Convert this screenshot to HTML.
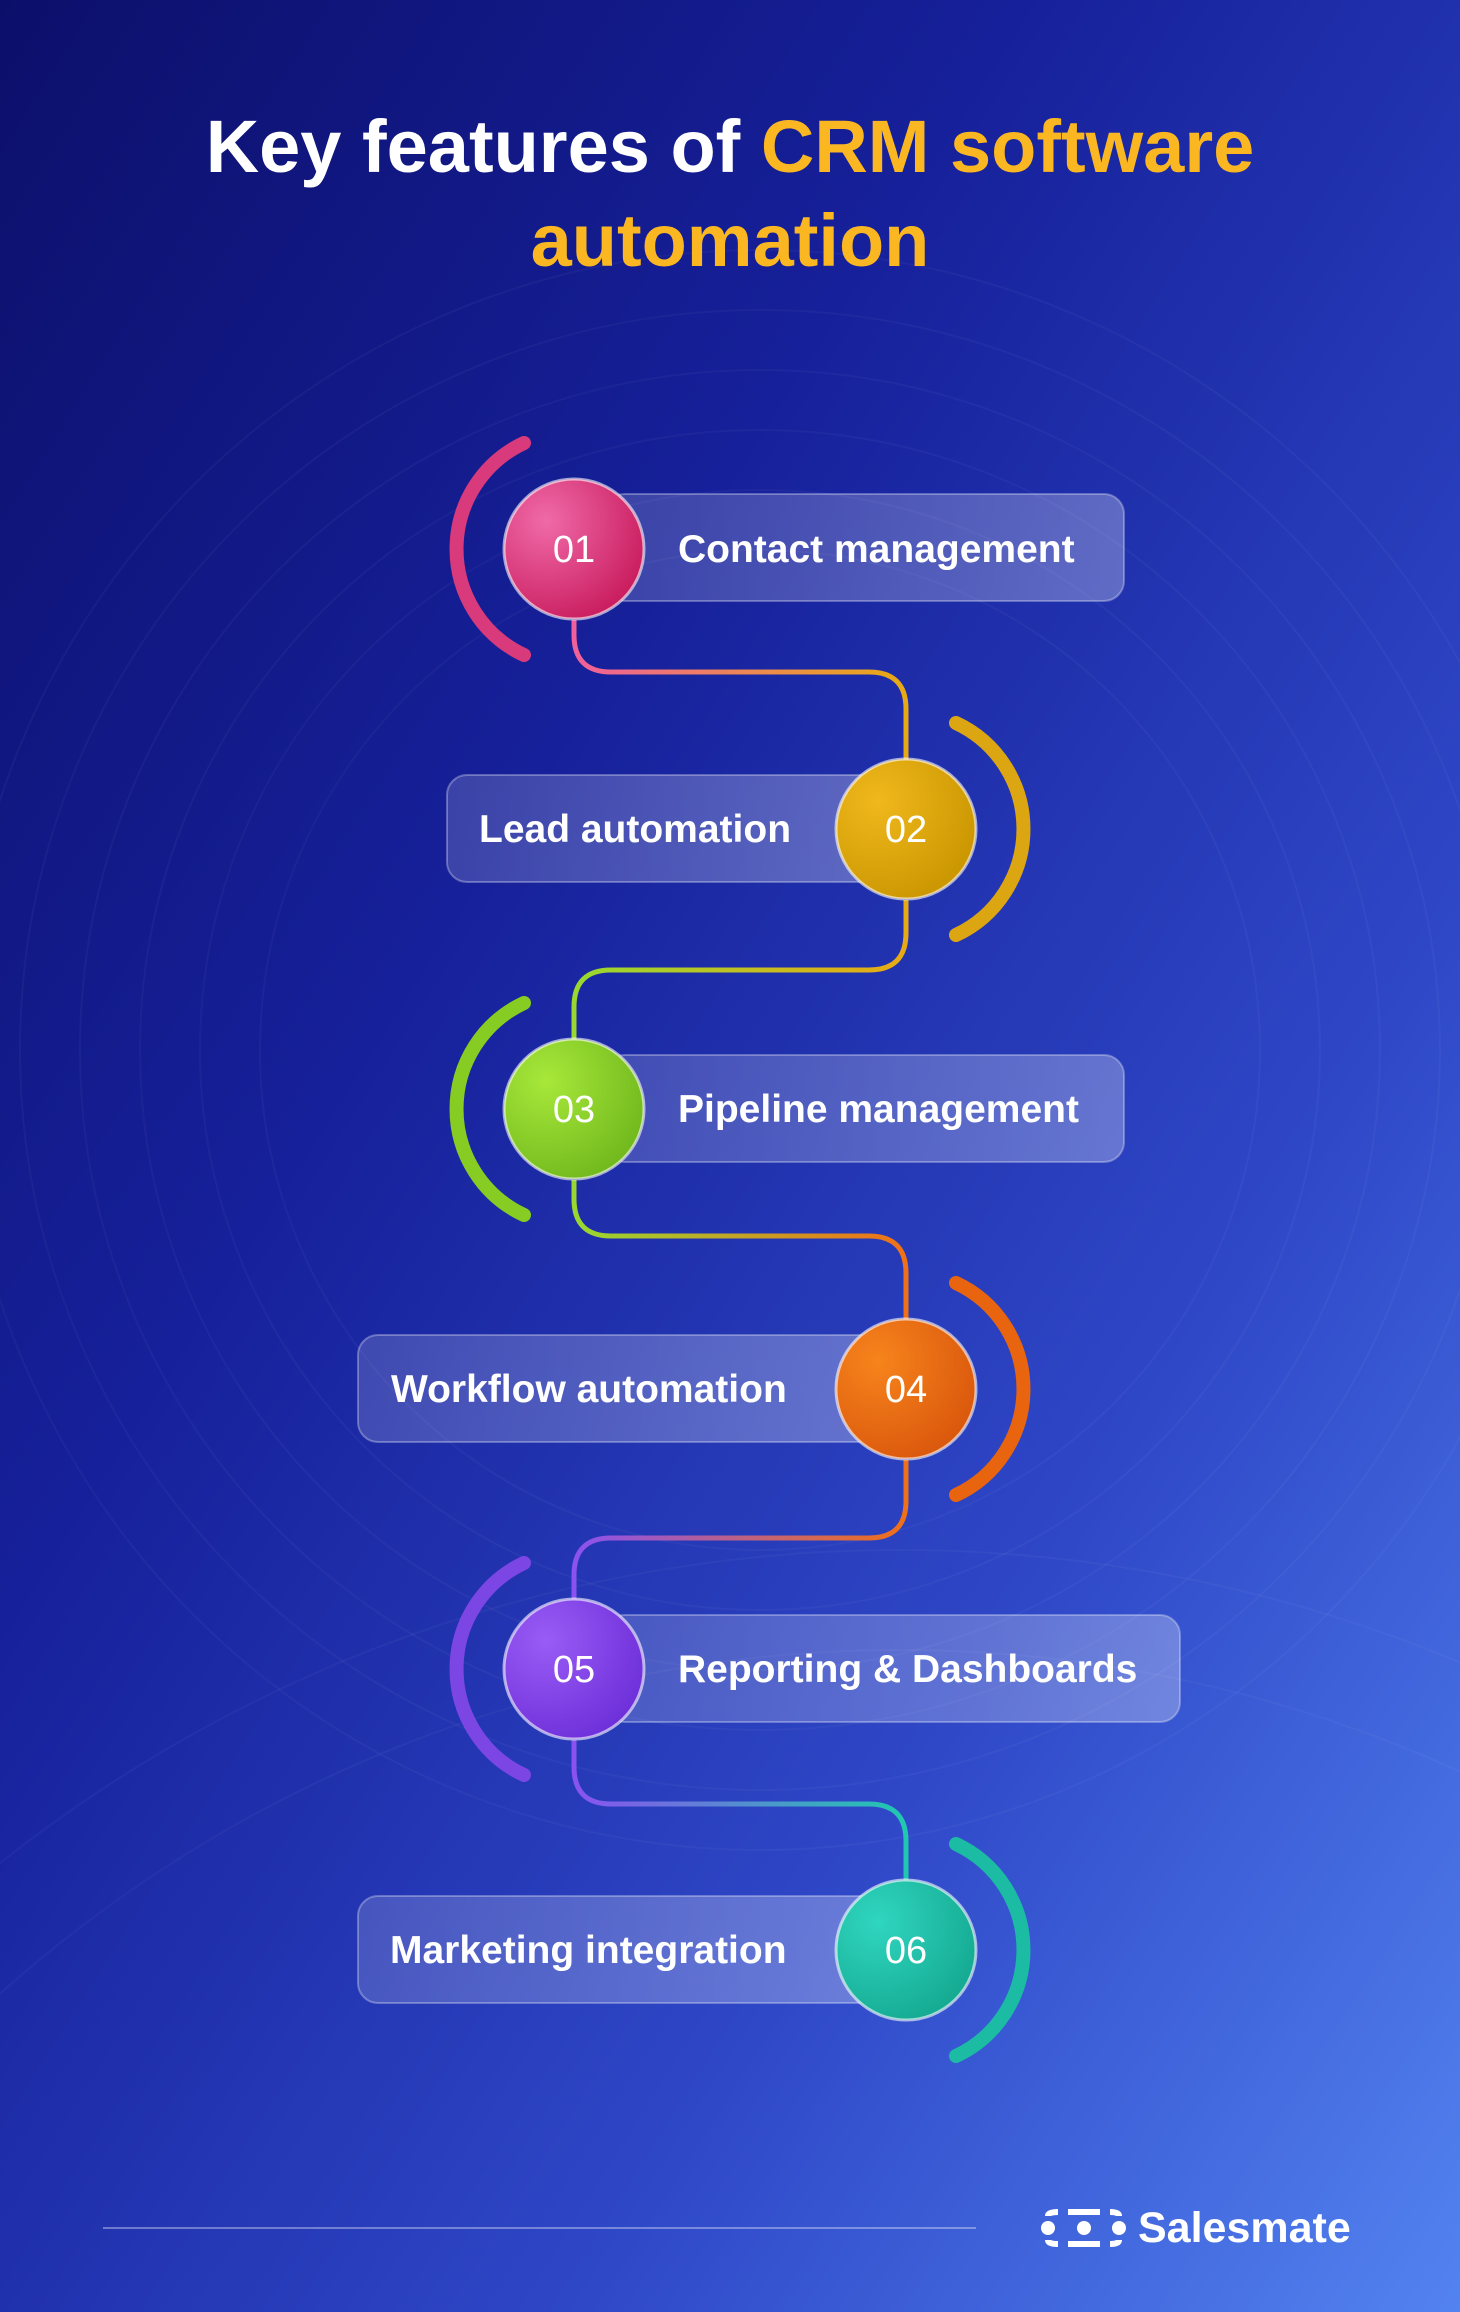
<!DOCTYPE html>
<html><head><meta charset="utf-8"><style>
html,body{margin:0;padding:0;width:1460px;height:2312px;overflow:hidden}
body{font-family:"Liberation Sans",sans-serif;}
svg{display:block}
</style></head><body>
<svg width="1460" height="2312" viewBox="0 0 1460 2312" xmlns="http://www.w3.org/2000/svg" font-family="Liberation Sans, sans-serif">
<defs>
<linearGradient id="bg" x1="0" y1="0" x2="1" y2="1">
<stop offset="0" stop-color="#0c0f6a"/><stop offset="0.35" stop-color="#16209a"/><stop offset="0.7" stop-color="#2f48c8"/><stop offset="1" stop-color="#5383f0"/>
</linearGradient>
<linearGradient id="pill" x1="0" y1="0" x2="1" y2="0">
<stop offset="0" stop-color="#ffffff" stop-opacity="0.16"/><stop offset="1" stop-color="#ffffff" stop-opacity="0.28"/>
</linearGradient>
<radialGradient id="c1" cx="0.3" cy="0.3" r="0.8"><stop offset="0" stop-color="#f06aa8"/><stop offset="1" stop-color="#c81a5c"/></radialGradient>
<radialGradient id="c2" cx="0.3" cy="0.3" r="0.8"><stop offset="0" stop-color="#f0b81c"/><stop offset="1" stop-color="#c99500"/></radialGradient>
<radialGradient id="c3" cx="0.3" cy="0.3" r="0.8"><stop offset="0" stop-color="#a8e83a"/><stop offset="1" stop-color="#6fb71c"/></radialGradient>
<radialGradient id="c4" cx="0.3" cy="0.3" r="0.8"><stop offset="0" stop-color="#f7841c"/><stop offset="1" stop-color="#d9560c"/></radialGradient>
<radialGradient id="c5" cx="0.3" cy="0.3" r="0.8"><stop offset="0" stop-color="#9a5cf5"/><stop offset="1" stop-color="#6c2ed8"/></radialGradient>
<radialGradient id="c6" cx="0.3" cy="0.3" r="0.8"><stop offset="0" stop-color="#30d6c0"/><stop offset="1" stop-color="#14a890"/></radialGradient>
<linearGradient id="l1" gradientUnits="userSpaceOnUse" x1="574" y1="0" x2="906" y2="0"><stop offset="0" stop-color="#f0609a"/><stop offset="1" stop-color="#e8aa14"/></linearGradient>
<linearGradient id="l2" gradientUnits="userSpaceOnUse" x1="906" y1="0" x2="574" y2="0"><stop offset="0" stop-color="#e8aa14"/><stop offset="1" stop-color="#98d830"/></linearGradient>
<linearGradient id="l3" gradientUnits="userSpaceOnUse" x1="574" y1="0" x2="906" y2="0"><stop offset="0" stop-color="#98d830"/><stop offset="1" stop-color="#f07018"/></linearGradient>
<linearGradient id="l4" gradientUnits="userSpaceOnUse" x1="906" y1="0" x2="574" y2="0"><stop offset="0" stop-color="#f07018"/><stop offset="1" stop-color="#8a52f0"/></linearGradient>
<linearGradient id="l5" gradientUnits="userSpaceOnUse" x1="574" y1="0" x2="906" y2="0"><stop offset="0" stop-color="#8a52f0"/><stop offset="1" stop-color="#20c8b0"/></linearGradient>
</defs>
<rect width="1460" height="2312" fill="url(#bg)"/>
<g fill="none" stroke="#ffffff" stroke-opacity="0.035" stroke-width="2">
<circle cx="760" cy="1050" r="500"/><circle cx="760" cy="1050" r="560"/><circle cx="760" cy="1050" r="620"/><circle cx="760" cy="1050" r="680"/><circle cx="760" cy="1050" r="740"/><circle cx="760" cy="1050" r="800"/>
<circle cx="900" cy="3000" r="1350"/><circle cx="900" cy="3000" r="1450"/>
</g>
<line x1="103" y1="2228" x2="976" y2="2228" stroke="#ffffff" stroke-opacity="0.35" stroke-width="2"/>

<text x="730" y="172" text-anchor="middle" font-size="74" font-weight="bold" fill="#ffffff">Key features of <tspan fill="#fbb722">CRM software</tspan></text>
<text x="730" y="266" text-anchor="middle" font-size="74" font-weight="bold" fill="#fbb722">automation</text>

<g fill="none" stroke-width="5">
<path d="M574 620 V635 Q574 672 611 672 H869 Q906 672 906 709 V760" stroke="url(#l1)"/>
<path d="M906 900 V933 Q906 970 869 970 H611 Q574 970 574 1007 V1040" stroke="url(#l2)"/>
<path d="M574 1180 V1199 Q574 1236 611 1236 H869 Q906 1236 906 1273 V1320" stroke="url(#l3)"/>
<path d="M906 1460 V1501 Q906 1538 869 1538 H611 Q574 1538 574 1575 V1600" stroke="url(#l4)"/>
<path d="M574 1740 V1767 Q574 1804 611 1804 H869 Q906 1804 906 1841 V1880" stroke="url(#l5)"/>
</g>

<g fill="url(#pill)" stroke="#ffffff" stroke-opacity="0.3" stroke-width="2">
<rect x="605" y="494" width="519" height="107" rx="20"/>
<rect x="447" y="775" width="440" height="107" rx="20"/>
<rect x="605" y="1055" width="519" height="107" rx="20"/>
<rect x="358" y="1335" width="530" height="107" rx="20"/>
<rect x="605" y="1615" width="575" height="107" rx="20"/>
<rect x="358" y="1896" width="530" height="107" rx="20"/>
</g>

<g fill="none" stroke-width="14" stroke-linecap="round">
<path d="M524 443 A117 117 0 0 0 524 655" stroke="#d83a7c"/>
<path d="M956 723 A117 117 0 0 1 956 935" stroke="#dca612"/>
<path d="M524 1003 A117 117 0 0 0 524 1215" stroke="#86cc22"/>
<path d="M956 1283 A117 117 0 0 1 956 1495" stroke="#e8640e"/>
<path d="M524 1563 A117 117 0 0 0 524 1775" stroke="#7c46e4"/>
<path d="M956 1844 A117 117 0 0 1 956 2056" stroke="#1cbba4"/>
</g>

<g stroke="#ffffff" stroke-opacity="0.6" stroke-width="3">
<circle cx="574" cy="549" r="70" fill="url(#c1)"/>
<circle cx="906" cy="829" r="70" fill="url(#c2)"/>
<circle cx="574" cy="1109" r="70" fill="url(#c3)"/>
<circle cx="906" cy="1389" r="70" fill="url(#c4)"/>
<circle cx="574" cy="1669" r="70" fill="url(#c5)"/>
<circle cx="906" cy="1950" r="70" fill="url(#c6)"/>
</g>
<g fill="#ffffff" font-size="38" text-anchor="middle">
<text x="574" y="562">01</text><text x="906" y="842">02</text><text x="574" y="1122">03</text>
<text x="906" y="1402">04</text><text x="574" y="1682">05</text><text x="906" y="1963">06</text>
</g>
<g fill="#ffffff" font-size="39" font-weight="bold">
<text x="678" y="562">Contact management</text>
<text x="479" y="842">Lead automation</text>
<text x="678" y="1122">Pipeline management</text>
<text x="391" y="1402">Workflow automation</text>
<text x="678" y="1682">Reporting &amp; Dashboards</text>
<text x="390" y="1963">Marketing integration</text>
</g>

<g fill="#ffffff">
<circle cx="1048" cy="2228" r="7"/><circle cx="1084" cy="2228" r="7"/><circle cx="1119" cy="2228" r="7"/>
<g fill="none" stroke="#ffffff" stroke-width="6">
<path d="M1048 2216 Q1048 2212 1058 2212 M1068 2212 H1078 Q1084 2212 1090 2212 H1100 M1110 2212 Q1119 2212 1119 2216"/>
<path d="M1048 2240 Q1048 2244 1058 2244 M1068 2244 H1078 Q1084 2244 1090 2244 H1100 M1110 2244 Q1119 2244 1119 2240"/>
</g>
<text x="1138" y="2242" font-size="43" font-weight="bold">Salesmate</text>
</g>
</svg>
</body></html>
